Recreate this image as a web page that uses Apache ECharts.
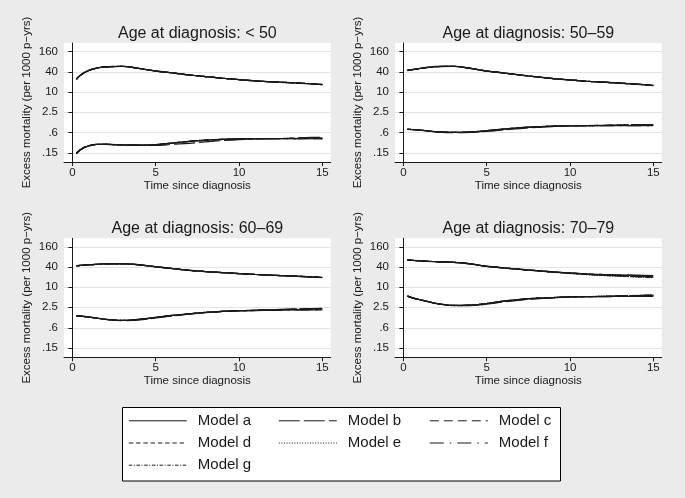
<!DOCTYPE html>
<html>
<head>
<meta charset="utf-8">
<style>
  html, body { margin: 0; padding: 0; background: #ebebeb; }
  #chart { width: 685px; height: 498px; }
</style>
<script src="https://cdn.jsdelivr.net/npm/echarts@6/dist/echarts.min.js"></script>
</head>
<body>
<div id="chart"></div>
<script>
// ---------------- data ----------------
const timeSinceDiagnosis = [0.25, 0.5, 1, 1.5, 2, 3, 4, 5, 6, 7, 8, 9, 10, 11, 12, 13, 14, 15];
const modelNames = ['Model a', 'Model b', 'Model c', 'Model d', 'Model e', 'Model f', 'Model g'];
const panelTitles = ['Age at diagnosis: < 50', 'Age at diagnosis: 50\u201359', 'Age at diagnosis: 60\u201369', 'Age at diagnosis: 70\u201379'];
const yTickValues = [0.15, 0.6, 2.5, 10, 40, 160];
const yTickLabels = ['.15', '.6', '2.5', '10', '40', '160'];
const xTickValues = [0, 5, 10, 15];

// rows = models a..g, columns = timeSinceDiagnosis
const lt50_upper = [
  [24, 32, 44, 52, 56, 58, 50, 42, 37, 32, 28.7, 25.6, 23.3, 21.3, 19.9, 19, 17.8, 16.6],
  [24.5, 32.5, 44.5, 52, 56, 57.5, 50.5, 42.5, 37, 32.3, 28.7, 25.6, 23.2, 21.3, 19.8, 18.9, 17.8, 16.5],
  [24, 31.5, 43.5, 51.5, 55.5, 58, 50, 42, 36.8, 32, 28.5, 25.5, 23.3, 21.2, 19.9, 19, 17.9, 16.6],
  [23.8, 32, 44, 52, 56.2, 58, 50.2, 42, 37, 32, 28.8, 25.6, 23.3, 21.3, 20, 19, 17.8, 16.7],
  [24.2, 32.2, 44.2, 52.3, 56, 57.8, 50, 41.8, 37, 32.2, 28.6, 25.6, 23.4, 21.4, 19.9, 19.1, 17.8, 16.6],
  [24, 32, 44, 52, 56, 58, 50, 42, 37.2, 32, 28.7, 25.7, 23.3, 21.3, 19.9, 19, 17.7, 16.5],
  [24.1, 32.1, 44, 52, 55.8, 58, 50.3, 42.2, 37, 32.1, 28.7, 25.6, 23.3, 21.2, 19.9, 19, 17.8, 16.6]
];
const lt50_lower = [
  [0.145, 0.19, 0.245, 0.27, 0.27, 0.258, 0.254, 0.263, 0.296, 0.33, 0.363, 0.38, 0.395, 0.397, 0.397, 0.397, 0.397, 0.395],
  [0.145, 0.19, 0.24, 0.265, 0.27, 0.26, 0.25, 0.25, 0.27, 0.29, 0.32, 0.35, 0.375, 0.39, 0.4, 0.41, 0.43, 0.44],
  [0.14, 0.185, 0.245, 0.27, 0.272, 0.26, 0.254, 0.26, 0.29, 0.325, 0.355, 0.375, 0.39, 0.395, 0.4, 0.41, 0.42, 0.43],
  [0.15, 0.195, 0.25, 0.272, 0.27, 0.258, 0.252, 0.262, 0.295, 0.33, 0.36, 0.38, 0.395, 0.398, 0.4, 0.4, 0.405, 0.41],
  [0.145, 0.19, 0.245, 0.27, 0.27, 0.256, 0.254, 0.265, 0.298, 0.332, 0.365, 0.382, 0.395, 0.397, 0.398, 0.4, 0.4, 0.4],
  [0.145, 0.19, 0.245, 0.268, 0.268, 0.258, 0.255, 0.264, 0.296, 0.33, 0.362, 0.38, 0.394, 0.396, 0.397, 0.398, 0.398, 0.397],
  [0.145, 0.19, 0.245, 0.27, 0.27, 0.258, 0.253, 0.262, 0.295, 0.33, 0.363, 0.38, 0.395, 0.397, 0.4, 0.405, 0.41, 0.415]
];
const age5059_upper = [
  [44, 46, 50, 54, 57, 58, 50.7, 42, 36.9, 32, 28, 25, 22.8, 20.8, 19.5, 18.2, 17, 15.5],
  [44, 46.5, 50.5, 55, 58, 58, 51, 42, 37, 32, 28, 25, 22.8, 20.8, 19.4, 18.2, 17, 15.6],
  [43.5, 45.5, 50, 54, 57.5, 58.5, 50.5, 41.5, 36.5, 31.8, 28, 25, 22.7, 20.8, 19.5, 18.3, 17.1, 15.6],
  [44, 46, 50, 54.5, 57, 58, 51, 42.3, 37, 32.2, 28.1, 25, 22.9, 20.9, 19.5, 18.2, 17, 15.5],
  [44.2, 46, 50.2, 54, 57, 57.8, 50.5, 42, 37, 32, 28, 25.1, 22.8, 20.8, 19.6, 18.2, 17, 15.5],
  [44, 46, 50, 54, 57, 58.5, 51.5, 42.5, 37, 32, 28, 25, 22.8, 20.8, 19.5, 18.2, 16.9, 15.4],
  [44, 46.2, 50, 54, 57.2, 58, 50.7, 42, 36.8, 32, 28.2, 25, 22.8, 20.8, 19.5, 18.3, 17, 15.6]
];
const age5059_lower = [
  [0.76, 0.75, 0.72, 0.68, 0.64, 0.62, 0.63, 0.69, 0.77, 0.85, 0.9, 0.95, 0.97, 0.97, 0.97, 0.97, 0.98, 0.98],
  [0.76, 0.75, 0.72, 0.67, 0.63, 0.6, 0.61, 0.66, 0.73, 0.8, 0.87, 0.92, 0.96, 0.98, 1.0, 1.02, 1.04, 1.05],
  [0.75, 0.74, 0.71, 0.68, 0.64, 0.62, 0.62, 0.67, 0.75, 0.83, 0.89, 0.94, 0.97, 0.98, 1.0, 1.02, 1.03, 1.04],
  [0.76, 0.75, 0.72, 0.68, 0.645, 0.62, 0.63, 0.69, 0.77, 0.85, 0.9, 0.95, 0.97, 0.98, 0.99, 1.0, 1.02, 1.03],
  [0.77, 0.76, 0.72, 0.68, 0.64, 0.615, 0.63, 0.7, 0.78, 0.85, 0.91, 0.95, 0.97, 0.97, 0.98, 0.99, 1.0, 1.01],
  [0.76, 0.75, 0.72, 0.68, 0.64, 0.62, 0.635, 0.69, 0.77, 0.85, 0.9, 0.94, 0.96, 0.97, 0.97, 0.97, 0.97, 0.97],
  [0.76, 0.75, 0.72, 0.68, 0.64, 0.62, 0.63, 0.68, 0.76, 0.84, 0.9, 0.95, 0.97, 0.98, 0.99, 1.01, 1.03, 1.05]
];
const age6069_upper = [
  [44, 45, 46.6, 48.5, 50, 50, 46.6, 40.6, 36.1, 32, 29.4, 27.4, 25.6, 24, 22.8, 21.7, 20.8, 19.5],
  [44, 45, 47, 49, 50.5, 50.5, 47, 41, 36.3, 32.2, 29.4, 27.3, 25.5, 24, 22.7, 21.6, 20.6, 19.4],
  [43.5, 44.5, 46.5, 48.5, 50, 50.5, 47, 41, 36, 31.8, 29.2, 27.3, 25.6, 24, 22.8, 21.7, 20.8, 19.6],
  [44, 45, 46.6, 48.6, 50.2, 50, 46.5, 40.5, 36, 32, 29.4, 27.4, 25.6, 24.1, 22.9, 21.8, 20.8, 19.5],
  [44.2, 45.2, 46.8, 48.5, 50, 49.8, 46.4, 40.6, 36.1, 32, 29.5, 27.5, 25.7, 24, 22.8, 21.7, 20.7, 19.4],
  [44, 45, 46.6, 48.5, 50, 50.2, 46.8, 40.8, 36.2, 32.1, 29.4, 27.4, 25.6, 24, 22.8, 21.6, 20.7, 19.4],
  [44, 45, 46.5, 48.4, 50, 50, 46.6, 40.6, 36.1, 32, 29.3, 27.4, 25.6, 24, 22.8, 21.7, 20.9, 19.6]
];
const age6069_lower = [
  [1.4, 1.36, 1.28, 1.18, 1.09, 1.02, 1.09, 1.25, 1.43, 1.6, 1.77, 1.89, 1.98, 2.0, 2.06, 2.1, 2.1, 2.1],
  [1.4, 1.36, 1.27, 1.17, 1.08, 1.0, 1.05, 1.2, 1.38, 1.55, 1.72, 1.86, 1.97, 2.05, 2.12, 2.2, 2.28, 2.35],
  [1.39, 1.35, 1.28, 1.18, 1.09, 1.01, 1.07, 1.22, 1.4, 1.58, 1.75, 1.88, 1.98, 2.04, 2.1, 2.16, 2.22, 2.28],
  [1.4, 1.36, 1.28, 1.19, 1.1, 1.02, 1.09, 1.25, 1.43, 1.6, 1.77, 1.89, 1.98, 2.02, 2.08, 2.12, 2.16, 2.2],
  [1.41, 1.37, 1.28, 1.18, 1.09, 1.02, 1.1, 1.26, 1.44, 1.61, 1.78, 1.9, 1.98, 2.01, 2.06, 2.1, 2.13, 2.15],
  [1.4, 1.36, 1.28, 1.18, 1.09, 1.02, 1.09, 1.25, 1.43, 1.6, 1.76, 1.88, 1.97, 2.0, 2.05, 2.08, 2.09, 2.1],
  [1.4, 1.36, 1.28, 1.18, 1.09, 1.01, 1.08, 1.24, 1.42, 1.6, 1.77, 1.89, 1.98, 2.03, 2.1, 2.17, 2.25, 2.32]
];
const age7079_upper = [
  [66, 64, 61.4, 59.5, 58, 55.6, 50, 42, 37.9, 34.4, 31.5, 28.7, 26.8, 25, 24, 23.3, 22.8, 22.3],
  [66, 64, 61.5, 59.5, 58, 55.8, 50.2, 42.5, 38, 34.2, 31.2, 28.5, 26.5, 24.5, 23.2, 22.3, 21.5, 20.8],
  [65.5, 63.5, 61, 59, 57.5, 55.4, 49.8, 42, 37.6, 34, 31, 28.2, 26.2, 24.3, 22.8, 21.8, 20.8, 20],
  [66, 64, 61.4, 59.5, 58, 55.6, 50, 42.2, 37.8, 34.3, 31.3, 28.4, 26.4, 24.4, 23, 21.9, 20.9, 20.1],
  [66.5, 64.5, 61.8, 59.8, 58.2, 55.8, 50, 41.8, 37.5, 33.8, 30.7, 27.8, 25.7, 23.8, 22.3, 21.2, 20.2, 19.2],
  [66, 64, 61.4, 59.5, 58, 55.6, 50.2, 42.2, 38, 34.5, 31.5, 28.8, 26.8, 25, 24, 23.2, 22.6, 22],
  [66, 64, 61.2, 59.3, 57.8, 55.5, 50, 42, 37.7, 34, 31, 28.2, 26, 24.1, 22.6, 21.5, 20.5, 19.6]
];
const age7079_lower = [
  [5.4, 4.9, 4.2, 3.7, 3.25, 2.85, 2.9, 3.25, 3.83, 4.3, 4.7, 4.9, 5.18, 5.2, 5.25, 5.28, 5.3, 5.3],
  [5.4, 4.9, 4.2, 3.65, 3.2, 2.8, 2.8, 3.1, 3.6, 4.1, 4.5, 4.8, 5.05, 5.2, 5.35, 5.5, 5.65, 5.8],
  [5.35, 4.85, 4.15, 3.7, 3.25, 2.85, 2.85, 3.15, 3.7, 4.2, 4.6, 4.85, 5.1, 5.2, 5.3, 5.45, 5.6, 5.75],
  [5.4, 4.9, 4.2, 3.7, 3.25, 2.86, 2.9, 3.25, 3.82, 4.3, 4.68, 4.9, 5.15, 5.22, 5.3, 5.4, 5.5, 5.6],
  [5.45, 4.95, 4.25, 3.72, 3.28, 2.88, 2.92, 3.28, 3.85, 4.32, 4.72, 4.92, 5.18, 5.25, 5.35, 5.5, 5.7, 5.9],
  [5.4, 4.9, 4.2, 3.7, 3.25, 2.85, 2.9, 3.25, 3.83, 4.3, 4.7, 4.9, 5.18, 5.2, 5.24, 5.26, 5.28, 5.28],
  [5.4, 4.9, 4.2, 3.68, 3.22, 2.82, 2.86, 3.2, 3.76, 4.25, 4.65, 4.88, 5.12, 5.22, 5.32, 5.45, 5.6, 5.75]
];

// ---------------- chart ----------------
const panelCurves = [
  [lt50_upper, lt50_lower],
  [age5059_upper, age5059_lower],
  [age6069_upper, age6069_lower],
  [age7079_upper, age7079_lower]
];
const lineDashes = ['solid', [21, 4], [9, 5], [4.5, 2.75], [1, 1.6], [14, 6, 1.5, 6], [3.5, 1.6, 1, 1.6]];
const FONT = '"Liberation Sans", Arial, Helvetica, sans-serif';
const INK = '#1a1a1a';

const gridPos = [
  { left: 64, top: 43 },
  { left: 395, top: 43 },
  { left: 64, top: 238.3 },
  { left: 395, top: 238.3 }
];
const grids = gridPos.map(g => ({
  left: g.left, top: g.top, width: 266.7, height: 119,
  backgroundColor: '#ffffff', show: true, borderWidth: 0,
  containLabel: false, outerBoundsMode: 'none'
}));

const xAxes = gridPos.map((g, i) => ({
  type: 'value', gridIndex: i, min: -0.5, max: 15.5,
  name: 'Time since diagnosis', nameLocation: 'middle', nameGap: 17,
  nameTextStyle: { fontFamily: FONT, fontSize: 11.5, color: INK },
  axisLine: { show: true, onZero: false, lineStyle: { color: INK, width: 1 } },
  axisTick: { show: true, length: 4, lineStyle: { color: INK }, customValues: xTickValues },
  axisLabel: { fontFamily: FONT, fontSize: 11.5, color: INK, margin: 5, customValues: xTickValues },
  splitLine: { show: false }
}));

function yLabel(v) {
  for (let k = 0; k < yTickValues.length; k++) {
    if (Math.abs(v - yTickValues[k]) / yTickValues[k] < 1e-6) return yTickLabels[k];
  }
  return '';
}
const yAxes = gridPos.map((g, i) => ({
  type: 'log', logBase: 10, gridIndex: i, min: 0.08, max: 290,
  name: 'Excess mortality (per 1000 p\u2212yrs)', nameLocation: 'middle', nameGap: 31,
  nameTextStyle: { fontFamily: FONT, fontSize: 11.5, color: INK },
  axisLine: { show: true, lineStyle: { color: INK, width: 1 } },
  axisTick: { show: true, length: 4, lineStyle: { color: INK }, customValues: yTickValues },
  axisLabel: { fontFamily: FONT, fontSize: 11.5, color: INK, margin: 6, customValues: yTickValues, formatter: yLabel },
  splitLine: { show: true, lineStyle: { color: '#e4e4e4', width: 1 } }
}));

const series = [];
panelCurves.forEach((curves, p) => {
  curves.forEach(curve => {
    for (let m = modelNames.length - 1; m >= 0; m--) {
      series.push({
        type: 'line', name: modelNames[m], xAxisIndex: p, yAxisIndex: p,
        data: timeSinceDiagnosis.map((t, i) => [t, curve[m][i]]),
        symbol: 'none', smooth: 0.35, silent: true,
        lineStyle: { color: INK, width: 1.2, type: lineDashes[m] },
        itemStyle: { color: INK },
        z: 2 + (modelNames.length - m)
      });
    }
  });
});

const titles = gridPos.map((g, i) => ({
  text: panelTitles[i], left: g.left + 133.35, top: g.top - 17.5, textAlign: 'center', padding: 0,
  textStyle: { fontFamily: FONT, fontSize: 16, fontWeight: 'normal', color: INK }
}));

const legendCols = [128.3, 278.3, 429.3];
const legendRowCenters = [422.3, 444.5, 466.7];
const legends = modelNames.map((name, m) => ({
  data: [name], orient: 'horizontal',
  left: legendCols[m % 3], top: legendRowCenters[Math.floor(m / 3)] - 9,
  itemWidth: 58, itemHeight: 10, padding: 0, selectedMode: false,
  itemStyle: { opacity: 0, borderWidth: 0 },
  lineStyle: { width: 1 },
  textStyle: { fontFamily: FONT, fontSize: 15, color: INK, padding: [0, 0, 0, 6] }
}));

const chart = echarts.init(document.getElementById('chart'), null, { renderer: 'canvas' });
chart.setOption({
  backgroundColor: '#ebebeb',
  animation: false,
  title: titles,
  grid: grids,
  xAxis: xAxes,
  yAxis: yAxes,
  legend: legends,
  graphic: [{
    type: 'rect', z: -1, silent: true,
    shape: { x: 122.5, y: 407.5, width: 438, height: 73.5 },
    style: { fill: '#ffffff', stroke: '#000000', lineWidth: 1 }
  }],
  series: series
});
</script>
</body>
</html>
